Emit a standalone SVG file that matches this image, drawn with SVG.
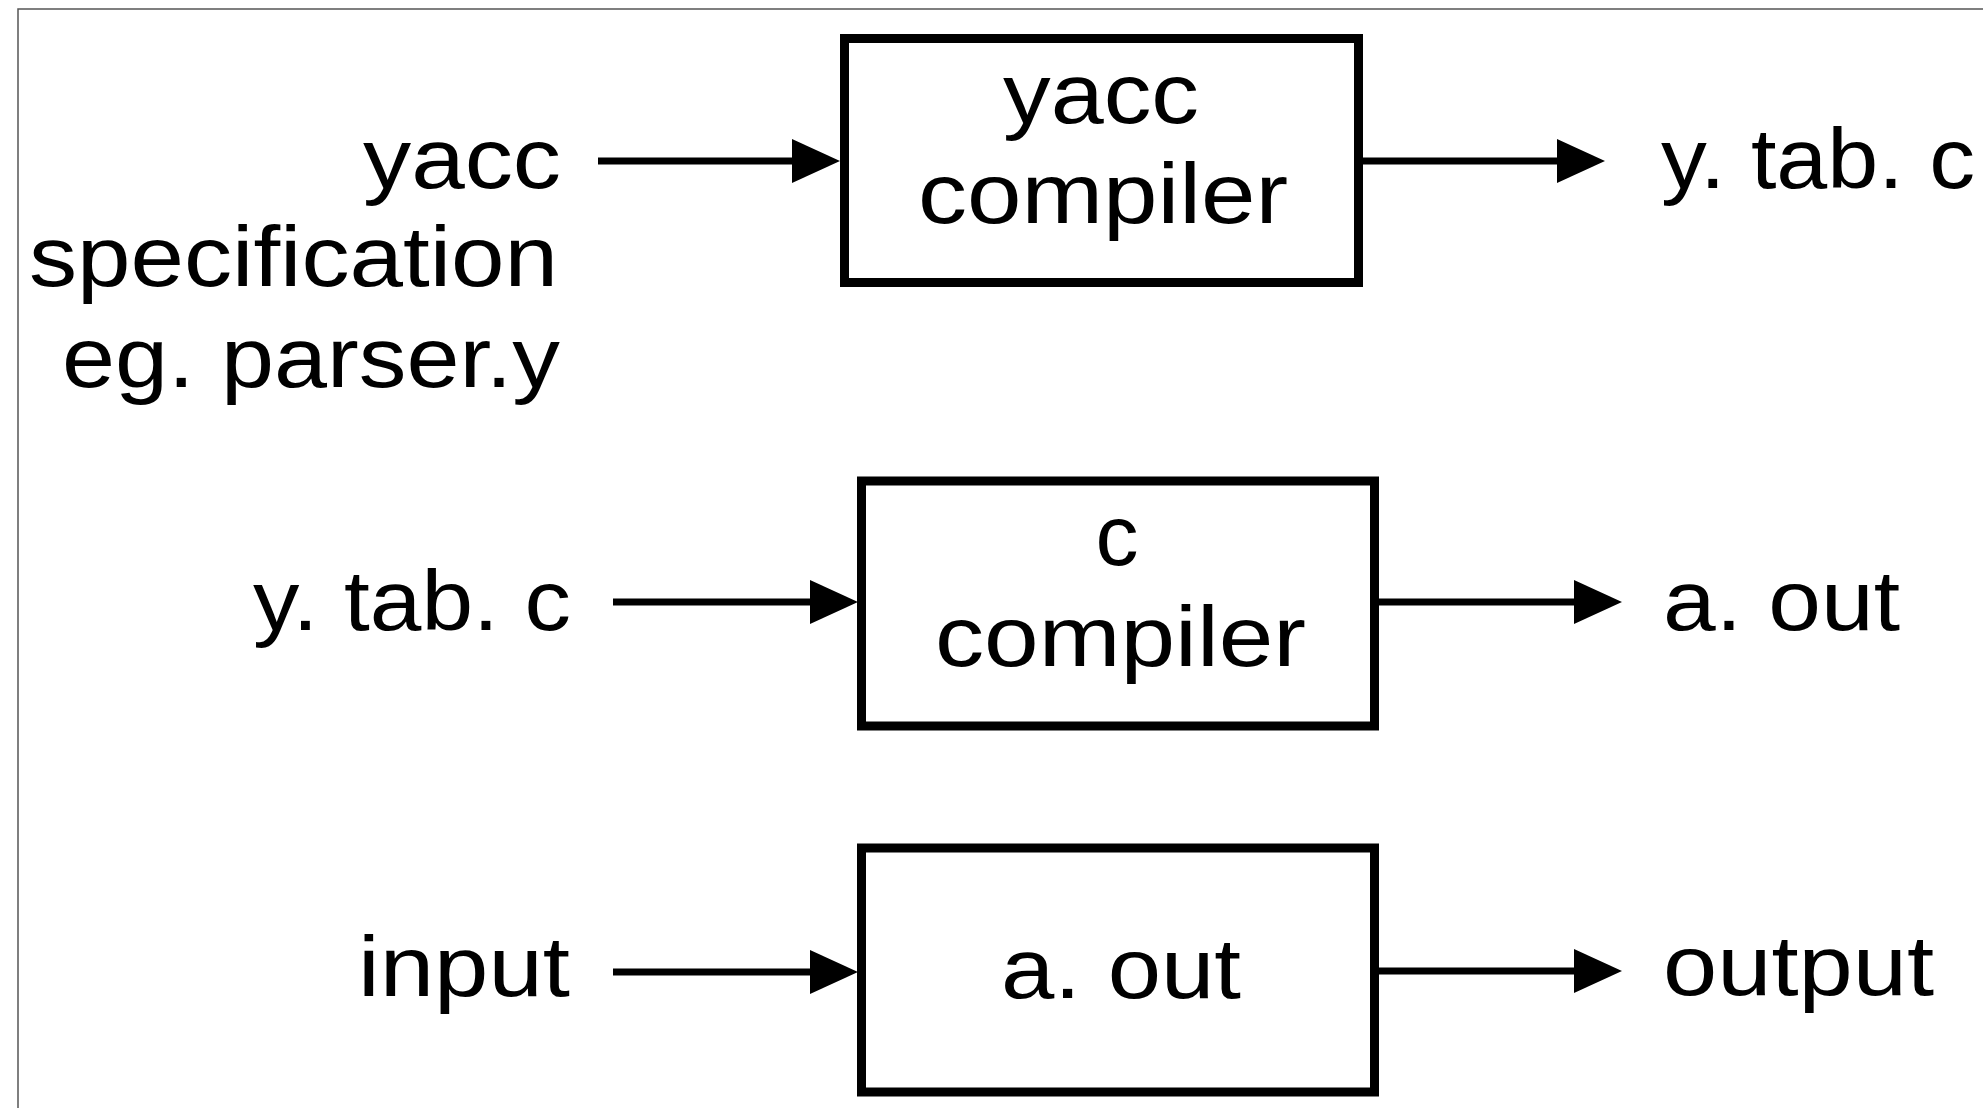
<svg xmlns="http://www.w3.org/2000/svg" width="1983" height="1108" viewBox="0 0 1983 1108">
<style>
.lbl{font-family:"Liberation Sans",Arial,Helvetica,sans-serif;font-size:86px;fill:#000}
.box{fill:#fff;stroke:#000;stroke-width:9}
.conn{stroke:#000;stroke-width:7;fill:none;marker-end:url(#ah)}
</style>
<defs>
<marker id="ah" markerUnits="userSpaceOnUse" markerWidth="48" markerHeight="44" refX="2" refY="22" orient="auto">
<path d="M0,0 L48,22 L0,44 z" fill="#000"/>
</marker>
</defs>
<rect width="1983" height="1108" fill="#fff"/>
<rect x="18" y="9" width="2000" height="1200" fill="none" stroke="#555" stroke-width="1.5"/>
<g id="connectors">
<line class="conn" x1="598" y1="161" x2="794" y2="161"/>
<line class="conn" x1="1362" y1="161" x2="1559" y2="161"/>
<line class="conn" x1="613" y1="602" x2="812" y2="602"/>
<line class="conn" x1="1378" y1="602" x2="1576" y2="602"/>
<line class="conn" x1="613" y1="972" x2="812" y2="972"/>
<line class="conn" x1="1378" y1="971" x2="1576" y2="971"/>
</g>
<g id="yacc-spec">
<text class="lbl" x="363" y="188" textLength="198" lengthAdjust="spacingAndGlyphs">yacc</text>
<text class="lbl" x="29" y="286" textLength="529" lengthAdjust="spacingAndGlyphs">specification</text>
<text class="lbl" x="62" y="387" textLength="498" lengthAdjust="spacingAndGlyphs">eg. parser.y</text>
</g>
<g id="yacc-compiler">
<rect class="box" x="844.5" y="38.5" width="514" height="244"/>
<text class="lbl" x="1003" y="123" textLength="196" lengthAdjust="spacingAndGlyphs">yacc</text>
<text class="lbl" x="918" y="223" textLength="370" lengthAdjust="spacingAndGlyphs">compiler</text>
</g>
<g id="ytabc-out">
<text class="lbl" x="1661" y="188" textLength="314" lengthAdjust="spacingAndGlyphs">y. tab. c</text>
</g>
<g id="ytabc-in">
<text class="lbl" x="253" y="630" textLength="318" lengthAdjust="spacingAndGlyphs">y. tab. c</text>
</g>
<g id="c-compiler">
<rect class="box" x="861.5" y="481" width="513" height="245"/>
<text class="lbl" x="1117" y="565" text-anchor="middle">c</text>
<text class="lbl" x="935" y="666" textLength="371" lengthAdjust="spacingAndGlyphs">compiler</text>
</g>
<g id="aout-out">
<text class="lbl" x="1663" y="630" textLength="237" lengthAdjust="spacingAndGlyphs">a. out</text>
</g>
<g id="input">
<text class="lbl" x="358" y="996" textLength="212" lengthAdjust="spacingAndGlyphs">input</text>
</g>
<g id="aout-box">
<rect class="box" x="861.5" y="848" width="513" height="244"/>
<text class="lbl" x="1001" y="998" textLength="240" lengthAdjust="spacingAndGlyphs">a. out</text>
</g>
<g id="output">
<text class="lbl" x="1663" y="995" textLength="271" lengthAdjust="spacingAndGlyphs">output</text>
</g>
</svg>
